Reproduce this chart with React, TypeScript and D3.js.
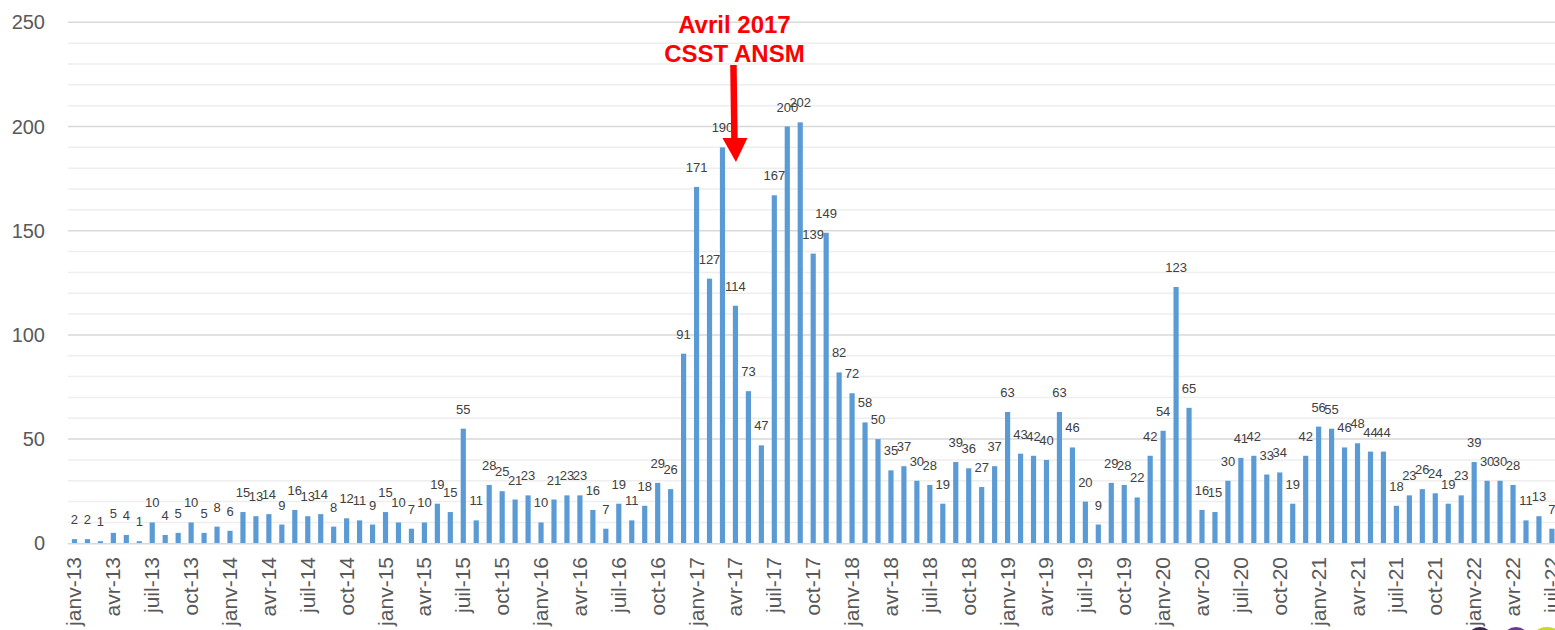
import { useEffect, useRef } from "react";
import * as d3 from "d3";

const monthNames = ["janv", "févr", "mars", "avr", "mai", "juin", "juil", "août", "sept", "oct", "nov", "déc"];
const years = ["13", "14", "15", "16", "17", "18", "19", "20", "21", "22"];

// monthly counts, janv-13 .. juil-22
const counts = [
  2, 2, 1, 5, 4, 1, 10, 4, 5, 10, 5, 8,
  6, 15, 13, 14, 9, 16, 13, 14, 8, 12, 11, 9,
  15, 10, 7, 10, 19, 15, 55, 11, 28, 25, 21, 23,
  10, 21, 23, 23, 16, 7, 19, 11, 18, 29, 26, 91,
  171, 127, 190, 114, 73, 47, 167, 200, 202, 139, 149, 82,
  72, 58, 50, 35, 37, 30, 28, 19, 39, 36, 27, 37,
  63, 43, 42, 40, 63, 46, 20, 9, 29, 28, 22, 42,
  54, 123, 65, 16, 15, 30, 41, 42, 33, 34, 19, 42,
  56, 55, 46, 48, 44, 44, 18, 23, 26, 24, 19, 23,
  39, 30, 30, 28, 11, 13, 7,
];

const months = counts.map((_, i) => monthNames[i % 12] + "-" + years[Math.floor(i / 12)]);
const yTicks = [0, 50, 100, 150, 200, 250];
const annotationLines = ["Avril 2017", "CSST ANSM"];
const annotationMonth = "avr-17";

const W = 1555,
  H = 630;

export default function App() {
  const ref = useRef<SVGSVGElement>(null);

  useEffect(() => {
    document.body.style.margin = "0";
    const svg = d3.select(ref.current);
    svg.selectAll("*").remove();

    const left = 68,
      step = 12.96,
      font = "'Liberation Sans', Arial, sans-serif";

    const x = d3
      .scaleBand<string>()
      .domain(months)
      .range([left, left + months.length * step])
      .paddingInner(0.6)
      .paddingOuter(0.3);
    const y = d3.scaleLinear().domain([0, 250]).range([543.3, 22.3]);

    // grid
    const grid = svg.append("g");
    grid
      .selectAll("line.minor")
      .data(d3.range(10, 251, 10).filter((v) => v % 50 !== 0))
      .enter()
      .append("line")
      .attr("x1", left)
      .attr("x2", W)
      .attr("y1", (d) => y(d))
      .attr("y2", (d) => y(d))
      .attr("stroke", "#eeeeee")
      .attr("stroke-width", 1.5);
    grid
      .selectAll("line.major")
      .data(yTicks.slice(1))
      .enter()
      .append("line")
      .attr("x1", left)
      .attr("x2", W)
      .attr("y1", (d) => y(d))
      .attr("y2", (d) => y(d))
      .attr("stroke", "#d9d9d9")
      .attr("stroke-width", 1.5);

    // y labels
    svg
      .append("g")
      .selectAll("text")
      .data(yTicks)
      .enter()
      .append("text")
      .attr("x", 45)
      .attr("y", (d) => y(d) + 7)
      .attr("text-anchor", "end")
      .attr("font-family", font)
      .attr("font-size", 20)
      .attr("fill", "#595959")
      .text((d) => d);

    // bars
    svg
      .append("g")
      .selectAll("rect")
      .data(counts)
      .enter()
      .append("rect")
      .attr("x", (_, i) => x(months[i])!)
      .attr("width", x.bandwidth())
      .attr("y", (d) => y(d))
      .attr("height", (d) => y(0) - y(d))
      .attr("fill", "#5b9bd5");

    // axis line
    svg
      .append("line")
      .attr("x1", left)
      .attr("x2", W)
      .attr("y1", y(0) + 0.5)
      .attr("y2", y(0) + 0.5)
      .attr("stroke", "#d9d9d9")
      .attr("stroke-width", 1.5);

    // data labels
    svg
      .append("g")
      .selectAll("text")
      .data(counts)
      .enter()
      .append("text")
      .attr("x", (_, i) => x(months[i])! + x.bandwidth() / 2)
      .attr("y", (d) => y(d) - 15)
      .attr("text-anchor", "middle")
      .attr("font-family", font)
      .attr("font-size", 13)
      .attr("fill", "#404040")
      .text((d) => d);

    // x labels every 3 months
    svg
      .append("g")
      .selectAll("text")
      .data(months.filter((_, i) => i % 3 === 0))
      .enter()
      .append("text")
      .attr(
        "transform",
        (d) => `translate(${x(d)! + x.bandwidth() / 2 + 7},557) rotate(-90)`
      )
      .attr("text-anchor", "end")
      .attr("font-family", font)
      .attr("font-size", 21)
      .attr("fill", "#595959")
      .text((d) => d);

    // annotation
    const ax = x(annotationMonth)! + x.bandwidth() / 2 - 1;
    svg
      .append("g")
      .selectAll("text")
      .data(annotationLines)
      .enter()
      .append("text")
      .attr("x", ax)
      .attr("y", (_, i) => 33 + i * 29)
      .attr("text-anchor", "middle")
      .attr("font-family", font)
      .attr("font-weight", "bold")
      .attr("font-size", 24)
      .attr("fill", "#ff0000")
      .text((d) => d);

    svg
      .append("line")
      .attr("x1", ax - 1)
      .attr("x2", ax)
      .attr("y1", 65)
      .attr("y2", 140)
      .attr("stroke", "#ff0000")
      .attr("stroke-width", 6.5);
    svg
      .append("path")
      .attr("d", `M${ax - 12},138 L${ax + 13},138 L${ax + 1.5},162 Z`)
      .attr("fill", "#ff0000");

    // cut-off logos at bottom right
    const logos = [
      { cx: 1480, r: 13, c: "#3b2450" },
      { cx: 1516, r: 14, c: "#6b3a8e" },
      { cx: 1547, r: 18, c: "#c9d62a" },
    ];
    svg
      .append("g")
      .selectAll("circle")
      .data(logos)
      .enter()
      .append("circle")
      .attr("cx", (d) => d.cx)
      .attr("cy", (d) => 627 + d.r)
      .attr("r", (d) => d.r)
      .attr("fill", (d) => d.c);
  }, []);

  return (
    <svg
      ref={ref}
      width={W}
      height={H}
      style={{ display: "block", background: "#ffffff" }}
    />
  );
}
